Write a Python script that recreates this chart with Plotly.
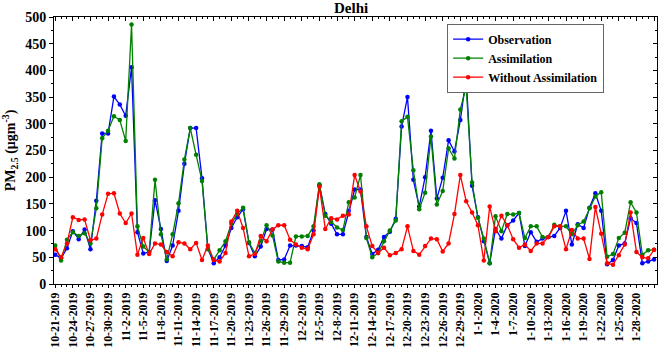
import datetime as dt
import plotly.graph_objects as go

start = dt.date(2019, 10, 21)
n_days = 103
dates = [start + dt.timedelta(days=i) for i in range(n_days)]

observation = [55, 48, 67, 99, 84, 102, 65, 156, 282, 282,
               351, 336, 315, 406, 97, 57, 60, 157, 103, 43,
               72, 137, 225, 292, 292, 198, 66, 39, 50, 72,
               105, 125, 140, 77, 52, 70, 103, 102, 45, 46,
               72, 72, 71, 69, 100, 185, 131, 113, 93, 93,
               137, 177, 177, 88, 56, 64, 88, 98, 122, 295,
               350, 195, 145, 200, 287, 160, 199, 269, 248, 307,
               387, 184, 125, 80, 39, 103, 85, 110, 119, 133,
               71, 97, 79, 85, 88, 90, 105, 137, 74, 112,
               105, 143, 170, 137, 37, 45, 72, 76, 123, 114,
               39, 42, 46]

assimilation = [72, 44, 83, 97, 90, 95, 76, 142, 273, 287,
                314, 307, 268, 486, 108, 70, 60, 195, 93, 46,
                93, 151, 233, 292, 242, 193, 65, 46, 63, 80,
                113, 131, 143, 78, 58, 80, 110, 91, 42, 40,
                40, 89, 89, 90, 108, 187, 128, 116, 106, 101,
                153, 162, 204, 86, 50, 58, 80, 100, 119, 305,
                313, 213, 140, 171, 276, 149, 174, 254, 235, 327,
                369, 190, 124, 85, 39, 127, 99, 131, 130, 133,
                86, 108, 108, 88, 88, 111, 108, 108, 93, 110,
                117, 142, 164, 172, 51, 56, 86, 96, 153, 134,
                55, 63, 64]

without_assimilation = [65, 50, 76, 125, 120, 121, 82, 85, 130, 169,
                        170, 132, 114, 132, 55, 86, 56, 76, 74, 60,
                        52, 78, 76, 65, 77, 45, 72, 45, 42, 58,
                        117, 137, 105, 52, 56, 90, 80, 102, 110, 110,
                        83, 74, 68, 65, 93, 182, 103, 123, 121, 128,
                        130, 204, 173, 108, 71, 58, 68, 54, 58, 65,
                        108, 62, 55, 71, 85, 84, 61, 76, 131, 204,
                        155, 134, 110, 44, 145, 99, 128, 110, 84, 68,
                        74, 62, 76, 76, 88, 108, 108, 65, 101, 85,
                        85, 47, 144, 94, 39, 36, 54, 74, 134, 60,
                        50, 48, 64]

tick_dates = dates[::3]
tick_labels = [f"{d.month}-{d.day}-{d.year}" for d in tick_dates]

FONT = "Liberation Serif"

fig = go.Figure()
series = [
    ("Observation", observation, "#0000FF"),
    ("Assimilation", assimilation, "#008000"),
    ("Without Assimilation", without_assimilation, "#FF0000"),
]
for name, vals, col in series:
    fig.add_trace(go.Scatter(
        x=dates, y=vals, name=name, mode="lines+markers",
        line=dict(color=col, width=1.3),
        marker=dict(color=col, size=4.5, symbol="circle"),
    ))

x_lo = dt.datetime(2019, 10, 21) - dt.timedelta(hours=5)
x_hi = dt.datetime(2020, 1, 31) + dt.timedelta(hours=12)

fig.update_layout(
    width=660, height=351,
    margin=dict(l=54, r=3, t=17, b=63),
    paper_bgcolor="white", plot_bgcolor="white",
    font=dict(family=FONT, color="black"),
    hovermode=False,
    title=dict(text="<b>Delhi</b>", x=0.532, xanchor="center", y=0.978,
               yanchor="middle", font=dict(family=FONT, size=15, color="black")),
    showlegend=True,
    legend=dict(x=0.652, y=0.975, xanchor="left", yanchor="top",
                bordercolor="#666666", borderwidth=1, bgcolor="white",
                font=dict(family=FONT, size=12, color="black", weight="bold"),
                tracegroupgap=0, itemwidth=30),
    xaxis=dict(
        type="date", range=[x_lo, x_hi],
        tickmode="array", tickvals=tick_dates, ticktext=tick_labels,
        tickangle=-90, ticks="outside", ticklen=3, tickwidth=1, tickcolor="black",
        tickfont=dict(family=FONT, size=11.8, color="black", weight="bold"),
        minor=dict(ticks="outside", ticklen=2, tick0="2019-10-21", dtick=86400000,
                   tickcolor="black"),
        showline=True, linecolor="black", linewidth=1, showgrid=False, zeroline=False,
    ),
    yaxis=dict(
        range=[0, 500], tickmode="linear", tick0=0, dtick=50,
        ticks="outside", ticklen=4, tickwidth=1, tickcolor="black",
        tickfont=dict(family=FONT, size=14, color="black", weight="bold"),
        minor=dict(ticks="outside", ticklen=2, dtick=25, tickcolor="black"),
        showline=True, linecolor="black", linewidth=1, showgrid=False, zeroline=False,
        title=dict(text="<b>PM<sub>2.5</sub> (μgm<sup>-3</sup>)</b>",
                   font=dict(family=FONT, size=14, color="black"), standoff=10),
    ),
    xaxis2=dict(
        type="date", overlaying="x", side="top", range=[x_lo, x_hi],
        tickmode="array", tickvals=tick_dates, showticklabels=False,
        ticks="inside", ticklen=4, tickcolor="black",
        minor=dict(ticks="inside", ticklen=2, tick0="2019-10-21", dtick=86400000,
                   tickcolor="black"),
        showline=True, linecolor="black", linewidth=1, showgrid=False, zeroline=False,
    ),
    yaxis2=dict(
        overlaying="y", side="right", range=[0, 500], tickmode="linear",
        tick0=0, dtick=50, showticklabels=False,
        ticks="inside", ticklen=4, tickcolor="black",
        minor=dict(ticks="inside", ticklen=2, dtick=25, tickcolor="black"),
        showline=True, linecolor="black", linewidth=1, showgrid=False, zeroline=False,
    ),
)

# invisible trace to anchor the mirrored axes
fig.add_trace(go.Scatter(x=[dates[0]], y=[0], xaxis="x2", yaxis="y2",
                         mode="markers", marker=dict(opacity=0), showlegend=False,
                         hoverinfo="skip"))

fig.write_html("out.html",
               config={"displayModeBar": False, "staticPlot": True},
               post_script="document.body.style.margin='0';document.body.style.overflow='hidden';")
